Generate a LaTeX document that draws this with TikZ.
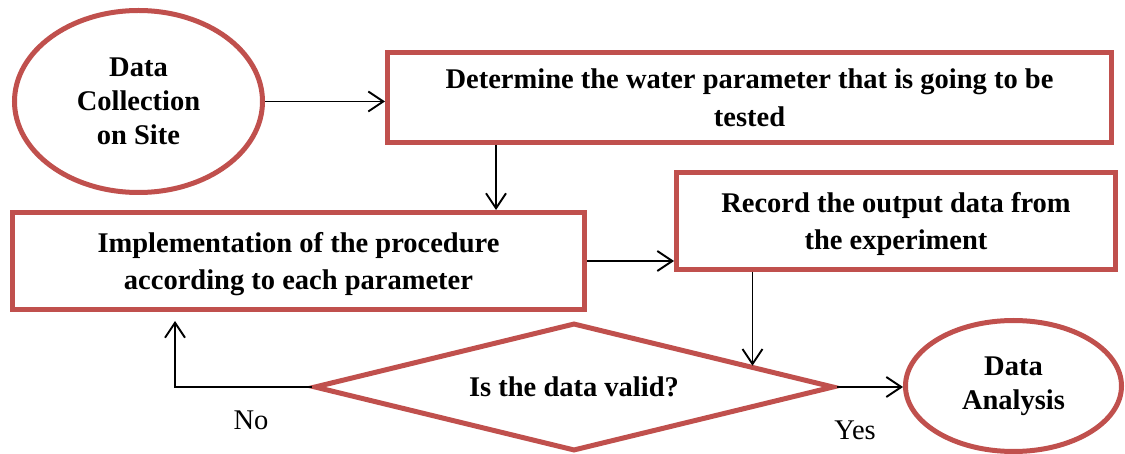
\documentclass[tikz,border=0pt]{standalone}
\usepackage{fontspec}
\setmainfont{Liberation Serif}
\usepackage{xcolor}
\usetikzlibrary{arrows.meta,shapes,calc}
\definecolor{boxred}{HTML}{C0504D}

\begin{document}
\begin{tikzpicture}[x=1pt,y=-1pt,>={Straight Barb[length=15pt,width=20pt]},
oval/.style={shape=ellipse,draw=boxred,line width=5pt,align=center,font=\bfseries\fontsize{28.5}{34}\selectfont},
stepbox/.style={shape=rectangle,draw=boxred,line width=5pt,align=center,inner sep=0pt,text depth=0pt,font=\bfseries\fontsize{28.5}{37.5}\selectfont},
decision/.style={shape=diamond,draw=boxred,line width=5pt,aspect=4,inner sep=0pt,font=\bfseries\fontsize{28.5}{34}\selectfont},
answer/.style={font=\fontsize{28.5}{34}\selectfont},
arr/.style={->,line width=1.9pt}]
\useasboundingbox (0,0) rectangle (1125,454);
\node[oval,minimum width=248pt,minimum height=182pt](collect) at (138.5,101.5){Data\\Collection\\on Site};
\node[stepbox,minimum width=724pt,minimum height=90pt](determine) at (749.5,97.5){Determine the water parameter that is going to be\\tested};
\node[stepbox,minimum width=572pt,minimum height=97pt](implement) at (298.5,261){Implementation of the procedure\\according to each parameter};
\node[stepbox,minimum width=439pt,minimum height=97pt](record) at (896,221){Record the output data from\\the experiment};
\node[decision,minimum width=520pt,minimum height=128pt](valid) at (574,387){Is the data valid?};
\node[oval,minimum width=216pt,minimum height=131pt](analysis) at (1013.5,386){Data\\Analysis};
\node[answer](no) at (251,420){No};
\node[answer](yes) at (855,430){Yes};
% connectors
\coordinate (hit) at ($(valid.north)!0.68!(valid.east)$);
\draw[arr](collect.east)--(collect.east -| determine.west);
\draw[arr]([xshift=111pt]determine.south west)--([xshift=111pt]determine.south west |- implement.north);
\draw[arr](implement.east)--(implement.east -| record.west);
\draw[arr](record.south -| hit)--(hit);
\draw[arr](valid.east)--(valid.east -| analysis.west);
\draw[arr,shorten >=9pt](valid.west)-|([xshift=165pt]implement.south west);
\end{tikzpicture}
\end{document}
